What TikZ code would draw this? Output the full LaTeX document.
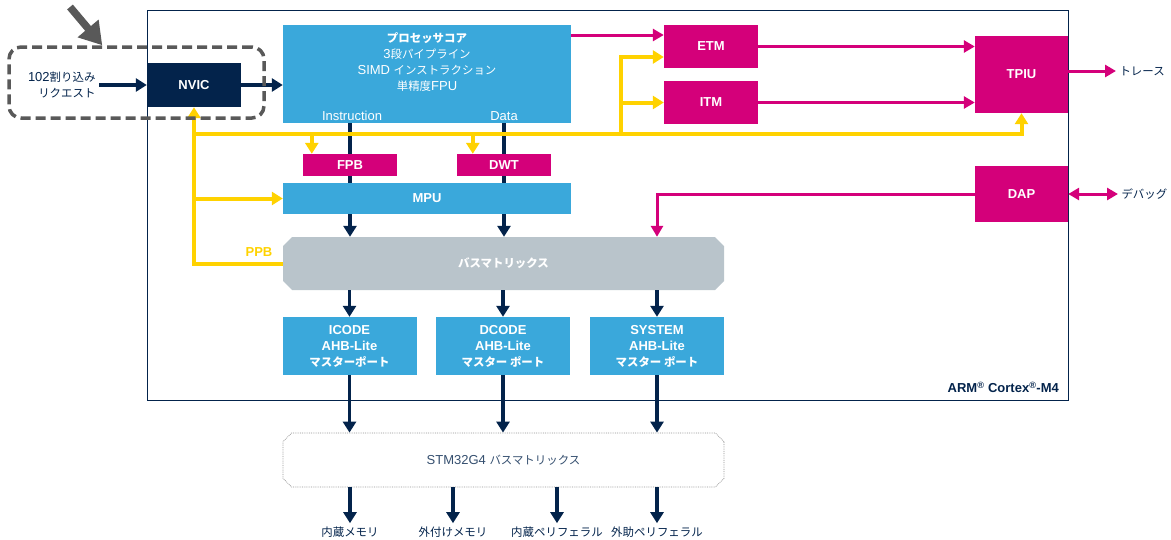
\documentclass[tikz,border=0pt]{standalone}
\usepackage{fontspec}
\setmainfont{Liberation Sans}
\newfontfamily\jp{Noto Sans CJK JP}[Scale=0.88]
\usetikzlibrary{arrows.meta,shapes.misc,backgrounds}

\definecolor{stblue}{RGB}{58,168,219}
\definecolor{stpink}{RGB}{212,0,122}
\definecolor{stnavy}{RGB}{3,35,75}
\definecolor{styellow}{RGB}{255,210,0}
\definecolor{stgray}{RGB}{185,196,203}
\definecolor{hintgray}{RGB}{89,89,89}

\newcommand\lbl{\fontsize{13}{16}\selectfont}

\tikzset{
  blk/.style={inner sep=0pt, align=center, text=white, font=\lbl\bfseries},
  bluebox/.style={blk, fill=stblue},
  pinkbox/.style={blk, fill=stpink},
  navybox/.style={blk, fill=stnavy},
  busbox/.style={blk, chamfered rectangle, chamfered rectangle xsep=14pt, minimum width=441, minimum height=53},
  nline/.style={draw=stnavy, line width=3.5pt, -{Triangle[length=11pt,width=13pt]}},
  yline/.style={draw=styellow, line width=4pt, -{Triangle[length=11pt,width=13pt]}},
  pline/.style={draw=stpink, line width=3pt, -{Triangle[length=11pt,width=12pt]}},
  txt/.style={text=stnavy, font=\lbl},
}

\begin{document}
\begin{tikzpicture}[x=1pt,y=-1pt,font=\lbl]
\useasboundingbox (0,0) rectangle (1171,539);

% Cortex-M4 frame
\node[draw=stnavy, line width=0.8pt, minimum width=921, minimum height=390, inner sep=0] (cortex) at (607.5,205) {};
\node[anchor=south east, text=stnavy, font=\lbl\bfseries] (armlbl) at ([xshift=-6pt,yshift=4pt]cortex.south east) {ARM\textsuperscript{®} Cortex\textsuperscript{®}-M4};

% blocks
\node[navybox, minimum width=94, minimum height=44] (nvic) at (194,85) {NVIC};
\node[bluebox, minimum width=288, minimum height=98] (core) at (427,74) {};
\node[blk, font=\lbl] (coretxt) at (427,62) {{\bfseries\jp プロセッサコア}\\3{\jp 段パイプライン}\\SIMD {\jp インストラクション}\\{\jp 単精度}FPU};
\node[text=white] (instr) at (352,116) {Instruction};
\node[text=white] (data) at (504,116) {Data};
\node[pinkbox, minimum width=94, minimum height=22] (fpb) at (350,165) {FPB};
\node[pinkbox, minimum width=94, minimum height=22] (dwt) at (504,165) {DWT};
\node[bluebox, minimum width=288, minimum height=31] (mpu) at (427,198.5) {MPU};
\node[pinkbox, minimum width=94, minimum height=43] (etm) at (711,46.5) {ETM};
\node[pinkbox, minimum width=94, minimum height=43] (itm) at (711,102.5) {ITM};
\node[pinkbox, minimum width=93, minimum height=77] (tpiu) at (1021.5,74.5) {TPIU};
\node[pinkbox, minimum width=93, minimum height=56] (dap) at (1021.5,194) {DAP};
\node[busbox, fill=stgray] (bus) at (503.5,263.5) {\jp バスマトリックス};
\node[text=styellow, font=\lbl\bfseries] (ppb) at (259,252) {PPB};

% master ports
\node[bluebox, minimum width=134, minimum height=58] (icode) at (349.5,346) {ICODE\\AHB-Lite\\{\jp マスターポート}};
\node[bluebox, minimum width=134, minimum height=58] (dcode) at (503,346) {DCODE\\AHB-Lite\\{\jp マスター ポート}};
\node[bluebox, minimum width=134, minimum height=58] (system) at (657,346) {SYSTEM\\AHB-Lite\\{\jp マスター ポート}};

\node[busbox, fill=white, draw=gray!85, densely dotted, line width=0.8pt, minimum height=54, text=stnavy!80, font=\lbl] (stm) at (503.5,460) {STM32G4 {\jp バスマトリックス}};

% outside labels
\node[txt, anchor=east, align=right] (irq) at (99,85) {102{\jp 割り込み}\\{\jp リクエスト}};
\node[txt, anchor=west] (trace) at (1116,71) {\jp トレース};
\node[txt, anchor=west] (dbg) at (1118,194) {\jp デバッグ};
\node[txt] (o1) at (350,532) {\jp 内蔵メモリ};
\node[txt] (o2) at (453,532) {\jp 外付けメモリ};
\node[txt] (o3) at (557,532) {\jp 内蔵ペリフェラル};
\node[txt] (o4) at (657,532) {\jp 外助ペリフェラル};

% instruction and data buses
\begin{scope}[on background layer]
\draw[nline] (fpb |- core.south) -- (fpb |- bus.north);
\draw[nline] (dwt |- core.south) -- (dwt |- bus.north);
\end{scope}

\draw[nline] (irq.east) -- (irq.east -| nvic.west);
\draw[nline] (nvic.east) -- (nvic.east -| core.west);
\foreach \p in {icode,dcode,system} {
  \draw[nline] (\p |- bus.south) -- (\p.north);
  \draw[nline] (\p.south) -- (\p |- stm.north);
}
\foreach \o in {o1,o2,o3,o4}
  \draw[nline] (\o |- stm.south) -- (\o.north);

% PPB
\coordinate (ppbrow) at (194,134);
\coordinate (trcj) at (621,134);
\coordinate (fpbin) at ([xshift=9pt]fpb.north west);
\coordinate (dwtin) at ([xshift=16pt]dwt.north west);
\coordinate (etmin) at ([yshift=-10.5pt]etm.west);
\draw[yline] (bus.west) -| (nvic.south);
\draw[yline] (ppbrow) -| (tpiu.south);
\draw[yline] (ppbrow -| fpbin) -- (fpbin);
\draw[yline] (ppbrow -| dwtin) -- (dwtin);
\draw[yline] (ppbrow |- mpu.west) -- (mpu.west);
\draw[yline] (trcj) |- (etmin);
\draw[yline] (trcj |- itm.west) -- (itm.west);

% trace and debug
\coordinate (etmtop) at ([yshift=11.5pt]etm.west);
\draw[pline] (etmtop -| core.east) -- (etmtop);
\draw[pline] (etm.east) -- (etm.east -| tpiu.west);
\draw[pline] (itm.east) -- (itm.east -| tpiu.west);
\draw[pline] (tpiu.east |- trace.west) -- (trace.west);
\draw[pline, {Triangle[length=11pt,width=12pt]}-{Triangle[length=11pt,width=12pt]}] (dap.east) -- (dbg.west);
\draw[pline] (dap.west) -| (system |- bus.north);

% NVIC group
\node[draw=hintgray, line width=3.5pt, dash pattern=on 10pt off 5pt, rounded corners=12pt, minimum width=255, minimum height=71, inner sep=0] (grp) at (136.5,82.5) {};
\coordinate (hint) at (70,7);
\coordinate (hinttip) at ([xshift=95pt]grp.north west);
\draw[draw=hintgray, line width=7.5pt, -{Triangle[length=22pt,width=26pt]}] (hint) -- (hinttip);

\end{tikzpicture}
\end{document}
